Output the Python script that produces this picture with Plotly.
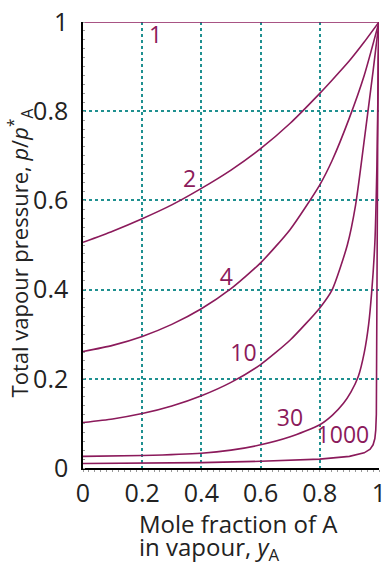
import plotly.graph_objects as go

# Values (x = y_A, p = p/p*_A)
x_r1 = [0.0, 1.0]
p_r1 = [1.0, 1.0]

x_r2 = [0.0, 0.1, 0.2, 0.3, 0.4, 0.5, 0.6, 0.7, 0.8, 0.842, 0.9, 0.95, 1.0]
p_r2 = [0.506, 0.531, 0.559, 0.590, 0.627, 0.668, 0.716, 0.773, 0.840, 0.870, 0.913, 0.955, 1.0]

x_r4 = [0.0, 0.1, 0.2, 0.3, 0.4, 0.5, 0.6, 0.7, 0.8, 0.842, 0.9, 0.95, 1.0]
p_r4 = [0.261, 0.275, 0.295, 0.322, 0.357, 0.402, 0.460, 0.535, 0.635, 0.690, 0.785, 0.880, 1.0]

x_r10 = [0.0, 0.1, 0.2, 0.3, 0.4, 0.5, 0.6, 0.7, 0.8, 0.842, 0.893, 0.921, 0.955, 0.98, 1.0]
p_r10 = [0.102, 0.110, 0.122, 0.139, 0.162, 0.192, 0.232, 0.287, 0.359, 0.400, 0.500, 0.590, 0.760, 0.890, 1.0]

x_r30 = [0.0, 0.2, 0.4, 0.5, 0.6, 0.7, 0.8, 0.842, 0.88, 0.905, 0.93, 0.95, 0.965, 0.975, 0.986, 0.993, 1.0]
p_r30 = [0.026, 0.028, 0.033, 0.040, 0.052, 0.070, 0.097, 0.118, 0.145, 0.170, 0.205, 0.258, 0.322, 0.392, 0.505, 0.680, 1.0]

x_r1000 = [0.0, 0.2, 0.4, 0.6, 0.8, 0.9, 0.95, 0.97, 0.98, 0.986, 0.989, 0.991, 0.992, 0.994, 0.997, 1.0]
p_r1000 = [0.010, 0.011, 0.012, 0.015, 0.020, 0.026, 0.034, 0.042, 0.052, 0.066, 0.085, 0.12, 0.30, 0.70, 0.92, 1.0]

ratio_labels = ["1", "2", "4", "10", "30", "1000"]
label_x = [0.245, 0.36, 0.484, 0.542, 0.699, 0.878]
label_y = [0.966, 0.643, 0.424, 0.253, 0.106, 0.068]

x_ticks = [0, 0.2, 0.4, 0.6, 0.8, 1]
x_ticktext = ["0", "0.2", "0.4", "0.6", "0.8", "1"]
y_ticks = [0, 0.2, 0.4, 0.6, 0.8, 1]
y_ticktext = ["0", "0.2", "0.4", "0.6", "0.8", "1"]

CURVE = "#8b1a5b"
GRID = "#1f9090"
FONT = "Open Sans"
TXT = "#222222"

fig = go.Figure()
series = [(x_r1, p_r1), (x_r2, p_r2), (x_r4, p_r4), (x_r10, p_r10), (x_r30, p_r30), (x_r1000, p_r1000)]
for i, (xs, ps) in enumerate(series):
    shape = "linear" if i == 5 else "spline"
    fig.add_trace(go.Scatter(x=xs, y=ps, mode="lines",
                             line=dict(color=CURVE, width=1.6, shape=shape, smoothing=0.6),
                             cliponaxis=False, showlegend=False, hoverinfo="skip"))

fig.add_trace(go.Scatter(x=label_x, y=label_y, mode="text", text=ratio_labels,
                         textfont=dict(family=FONT, size=23, color=CURVE),
                         textposition="middle center", showlegend=False, hoverinfo="skip",
                         cliponaxis=False))

fig.update_xaxes(range=[0, 1], tickvals=x_ticks, ticktext=x_ticktext, automargin=False,
                 showgrid=True, gridcolor=GRID, griddash="dot", gridwidth=1.5,
                 showline=True, linecolor="black", linewidth=1.5, zeroline=False,
                 ticks="", ticklabelstandoff=2, ticklabeloverflow="allow",
                 minor=dict(ticks="outside", ticklen=2, dtick=0.02, tickcolor="#999999", showgrid=False),
                 tickfont=dict(family=FONT, size=25, color=TXT))
fig.update_yaxes(range=[0, 1], tickvals=y_ticks, ticktext=y_ticktext, automargin=False,
                 showgrid=True, gridcolor=GRID, griddash="dot", gridwidth=1.5,
                 showline=True, linecolor="black", linewidth=1.5, zeroline=False,
                 ticks="", ticklabelstandoff=8, ticklabeloverflow="allow",
                 minor=dict(ticks="inside", ticklen=2, dtick=0.02, tickcolor="#999999", showgrid=False),
                 tickfont=dict(family=FONT, size=25, color=TXT))

fig.add_annotation(text="Mole fraction of A", xref="paper", yref="paper",
                   x=0.182, y=-0.083, xanchor="left", yanchor="top", showarrow=False,
                   font=dict(family=FONT, size=24, color=TXT))
fig.add_annotation(text="in vapour, <i>y</i><sub>A</sub>", xref="paper", yref="paper",
                   x=0.182, y=-0.135, xanchor="left", yanchor="top", showarrow=False,
                   font=dict(family=FONT, size=24, color=TXT))
fig.add_annotation(text="Total vapour pressure, <i>p</i>/<i>p</i><sup>*</sup><sub>A</sub>",
                   xref="paper", yref="paper", x=-0.21, y=0.483, textangle=-90,
                   xanchor="center", yanchor="middle", showarrow=False,
                   font=dict(family=FONT, size=22, color=TXT))

fig.update_layout(width=382, height=566, margin=dict(l=83, r=3, t=22, b=98),
                  plot_bgcolor="white", paper_bgcolor="white")

fig.write_html("out.html", config={"displayModeBar": False},
               post_script="document.body.style.margin='0';document.body.style.overflow='hidden';")
